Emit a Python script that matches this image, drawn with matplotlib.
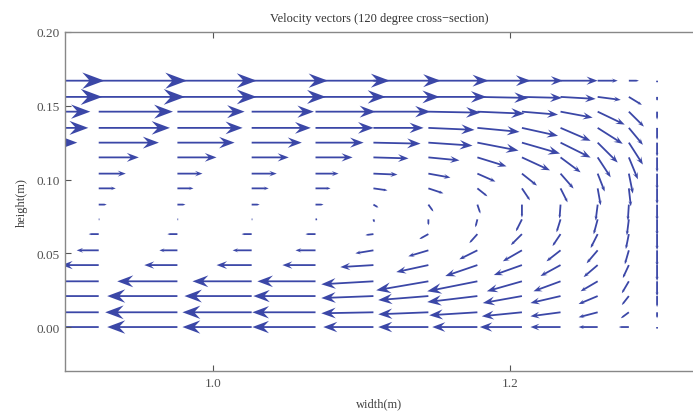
import numpy as np
import matplotlib.pyplot as plt
from matplotlib.ticker import FormatStrFormatter

# sample points of the cross-section (m)
x_pts = [0.866, 0.923, 0.976, 1.026, 1.069, 1.108, 1.145, 1.178, 1.208, 1.234, 1.259, 1.280, 1.299]
y_pts = [0.000, 0.010, 0.021, 0.031, 0.042, 0.052, 0.063, 0.073, 0.083,
         0.094, 0.104, 0.115, 0.125, 0.135, 0.146, 0.156, 0.167]

# horizontal velocity (cm/s), one row per height, bottom to top
u_cm = [
    [-74, -72, -70, -69, -63, -50, -50, -45, -42, -30, -19, -10, 0],
    [-72, -70, -72, -69, -63, -52, -50, -48, -40, -30, -19, -8, 0],
    [-66, -66, -70, -67, -62, -52, -50, -50, -39, -30, -19, -7, 0],
    [-56, -55, -60, -59, -58, -52, -52, -50, -35, -27, -17, -7, 0],
    [-38, -37, -33, -35, -33, -33, -32, -32, -28, -20, -14, -6, 0],
    [-22, -22, -18, -19, -20, -18, -20, -18, -19, -14, -11, -4, 0],
    [-10, -10, -10, -10, -10, -8, -9, -8, -11, -8, -7, -3, 0],
    [0, 1, 1, 1, 2, 1, 0, -2, -6, -4, -4, -2, 0],
    [8, 8, 8, 8, 8, 5, 5, 3, 0, -1, -2, -1, 0],
    [18, 17, 16, 17, 15, 14, 15, 10, 8, 7, 3, 2, 0],
    [28, 27, 25, 25, 23, 24, 22, 18, 15, 13, 7, 4, 0],
    [42, 40, 39, 37, 37, 35, 31, 29, 28, 20, 13, 9, 0],
    [63, 60, 57, 50, 48, 47, 44, 41, 38, 30, 20, 14, 0],
    [74, 71, 65, 59, 58, 50, 46, 42, 36, 30, 25, 14, 0],
    [76, 74, 67, 62, 60, 57, 52, 47, 36, 32, 27, 15, 0],
    [88, 86, 79, 74, 70, 66, 58, 51, 40, 35, 23, 13, 0],
    [90, 88, 79, 76, 74, 67, 60, 53, 41, 37, 20, 10, 0],
]

# vertical velocity (cm/s), same layout
v_cm = [
    [0, 0, 0, 0, 0, 0, 0, 0, 0, 0, 0, 0, -2],
    [0, 0, 0, 0, 0, -1, -2, -3, -4, -4, -5, -6, -6],
    [0, 0, 0, 0, 0, -2, -4, -6, -7, -7, -8, -9, -11],
    [0, 0, 0, 0, 0, -3, -9, -10, -10, -10, -10, -12, -15],
    [0, 0, 0, 0, 0, -2, -7, -11, -10, -11, -12, -13, -16],
    [0, 0, 0, 0, 0, -3, -6, -9, -11, -11, -13, -14, -16],
    [0, 0, 0, 0, 0, -1, -5, -9, -11, -12, -14, -15, -16],
    [0, 0, 0, 0, 0, -3, -6, -8, -12, -13, -15, -16, -16],
    [0, 0, 0, 0, 0, -3, -7, -9, -13, -14, -16, -16, -16],
    [0, 0, 0, 0, 0, -2, -5, -8, -12, -14, -17, -18, -16],
    [0, 0, 0, 0, 0, -1, -4, -8, -12, -15, -18, -20, -16],
    [0, 0, 0, 0, 0, -1, -3, -9, -13, -15, -20, -22, -15],
    [0, 0, 0, 0, 0, -1, -3, -8, -11, -15, -20, -22, -14],
    [0, 0, 0, 0, 0, 0, -2, -4, -8, -13, -16, -17, -12],
    [0, 0, 0, 0, 0, 0, -1, -2, -3, -6, -13, -15, -8],
    [0, 0, 0, 0, 0, 0, 0, -1, -1, -2, -3, -8, -4],
    [0, 0, 0, 0, 0, 0, 0, 0, 0, 0, 0, 0, -2],
]

x_ticks = [1.0, 1.2]
y_ticks = [0.00, 0.05, 0.10, 0.15, 0.20]

arrow_col = '#3b47a7'
k = 1 / 1480.0  # metres of arrow per cm/s

plt.rcParams['font.family'] = ['Liberation Serif', 'DejaVu Serif']

fig = plt.figure(figsize=(6.93, 4.14), dpi=100)
ax = fig.add_axes([65 / 693, 42 / 414, 628 / 693, 339 / 414])

for j, y in enumerate(y_pts):
    for i, x in enumerate(x_pts):
        u = u_cm[j][i]
        v = v_cm[j][i]
        L = np.hypot(u, v)
        if L == 0:
            continue
        hl = min(0.3 * L, 4 + 0.2 * L)
        hw = 0.75 * hl
        ax.arrow(x, y, u * k, v * k, width=1.8 * k, head_width=hw * k,
                 head_length=hl * k, length_includes_head=True, overhang=0.3,
                 color=arrow_col, lw=0)

ax.set_xlim(0.9003, 1.3232)
ax.set_ylim(-0.0298, 0.20)
ax.set_xticks(x_ticks)
ax.set_yticks(y_ticks)
ax.xaxis.set_major_formatter(FormatStrFormatter('%.1f'))
ax.yaxis.set_major_formatter(FormatStrFormatter('%.2f'))
ax.tick_params(direction='in', length=4, width=0.8, color='#555555',
               labelcolor='#505050', labelsize=9.5, top=True, pad=4)

for s in ['left', 'bottom', 'top']:
    ax.spines[s].set_color('#888888')
    ax.spines[s].set_linewidth(1.0)
ax.spines['right'].set_visible(False)

ax.set_title('Velocity vectors (120 degree cross\u2212section)', fontsize=9,
             color='#333333', pad=8)
ax.set_xlabel('width(m)', fontsize=9, color='#404040', labelpad=6)
ax.set_ylabel('height(m)', fontsize=9, color='#404040', labelpad=6)

plt.savefig('out.png', dpi=100)
